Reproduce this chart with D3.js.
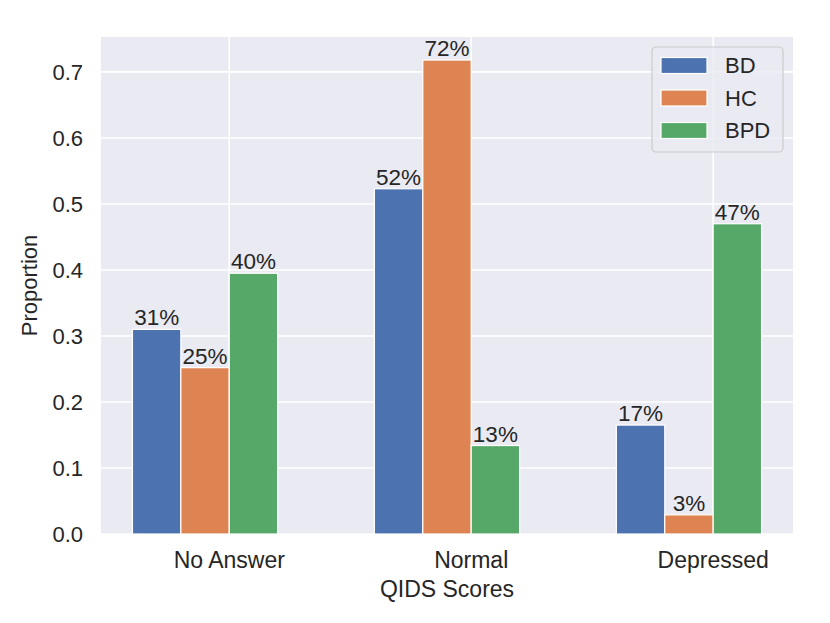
<!DOCTYPE html>
<html>
<head>
<meta charset="utf-8">
<script src="https://cdn.jsdelivr.net/npm/d3@7"></script>
<style>
  body { margin: 0; background: #fff; }
  text { font-family: "Liberation Sans", Arial, sans-serif; fill: #262626; }
</style>
</head>
<body>
<div id="chart"></div>
<script>
const categories = ['No Answer', 'Normal', 'Depressed'];
const groups = ['BD', 'HC', 'BPD'];
const bdValues = [0.310, 0.523, 0.165];
const hcValues = [0.252, 0.718, 0.029];
const bpdValues = [0.395, 0.134, 0.470];
const yTicks = [0.0, 0.1, 0.2, 0.3, 0.4, 0.5, 0.6, 0.7];
const colors = ['#4C72B0', '#DD8452', '#55A868'];

const seriesValues = [bdValues, hcValues, bpdValues];

const width = 830, height = 623;
const margins = { left: 101, right: 37, top: 37, bottom: 89 };
const chartWidth = width - margins.left - margins.right;
const chartHeight = height - margins.top - margins.bottom;

const svg = d3.select('#chart')
    .append('svg')
    .attr('width', width)
    .attr('height', height);

const chart = svg.append('g')
    .attr('transform', `translate(${margins.left}, ${margins.top})`);

// bars of width 0.2 around each tick, like matplotlib with 5% margins
const barW = 0.2;
const xScale = d3.scaleLinear()
    .domain([-0.53, 2.33])
    .range([0, chartWidth]);

const yScale = d3.scaleLinear()
    .domain([0, 0.7529])
    .range([chartHeight, 0]);

chart.append('rect')
    .attr('width', chartWidth)
    .attr('height', chartHeight)
    .attr('fill', '#EAEAF2');

// grid
chart.append('g')
    .selectAll('line')
    .data(yTicks)
    .enter()
    .append('line')
    .attr('x1', 0)
    .attr('x2', chartWidth)
    .attr('y1', d => yScale(d))
    .attr('y2', d => yScale(d))
    .attr('stroke', '#fff')
    .attr('stroke-width', 1.6);

chart.append('g')
    .selectAll('line')
    .data(categories)
    .enter()
    .append('line')
    .attr('x1', (d, i) => xScale(i))
    .attr('x2', (d, i) => xScale(i))
    .attr('y1', 0)
    .attr('y2', chartHeight)
    .attr('stroke', '#fff')
    .attr('stroke-width', 1.6);

// bars
groups.forEach((g, gi) => {
    const offset = (gi - 2) * barW;
    const vals = seriesValues[gi];

    chart.append('g')
        .selectAll('rect')
        .data(vals)
        .enter()
        .append('rect')
        .attr('x', (d, i) => xScale(i + offset))
        .attr('y', d => yScale(d))
        .attr('width', xScale(barW) - xScale(0))
        .attr('height', d => chartHeight - yScale(d))
        .attr('fill', colors[gi])
        .attr('stroke', '#fff')
        .attr('stroke-width', 1.2);

    chart.append('g')
        .selectAll('text')
        .data(vals)
        .enter()
        .append('text')
        .attr('x', (d, i) => xScale(i + offset + barW / 2))
        .attr('y', d => yScale(d) - 4)
        .attr('text-anchor', 'middle')
        .style('font-size', '22.5px')
        .text(d => Math.round(d * 100) + '%');
});

// y axis labels
chart.append('g')
    .selectAll('text')
    .data(yTicks)
    .enter()
    .append('text')
    .attr('x', -18)
    .attr('y', d => yScale(d))
    .attr('dy', '0.35em')
    .attr('text-anchor', 'end')
    .style('font-size', '22px')
    .text(d => d.toFixed(1));

// x axis labels
chart.append('g')
    .selectAll('text')
    .data(categories)
    .enter()
    .append('text')
    .attr('x', (d, i) => xScale(i))
    .attr('y', chartHeight + 34)
    .attr('text-anchor', 'middle')
    .style('font-size', '23px')
    .text(d => d);

svg.append('text')
    .attr('x', margins.left + chartWidth / 2)
    .attr('y', 597)
    .attr('text-anchor', 'middle')
    .style('font-size', '23px')
    .text('QIDS Scores');

svg.append('text')
    .attr('transform', `translate(37, ${margins.top + chartHeight / 2}) rotate(-90)`)
    .attr('text-anchor', 'middle')
    .style('font-size', '22px')
    .text('Proportion');

// legend
const legend = svg.append('g')
    .attr('transform', 'translate(652, 47)');

legend.append('rect')
    .attr('width', 131)
    .attr('height', 105)
    .attr('rx', 4)
    .attr('fill', '#EAEAF2')
    .attr('fill-opacity', 0.8)
    .attr('stroke', '#CCCCCC')
    .attr('stroke-width', 1.2);

groups.forEach((g, gi) => {
    const row = legend.append('g')
        .attr('transform', `translate(9, ${18.5 + gi * 32.5})`);
    row.append('rect')
        .attr('y', -8)
        .attr('width', 46)
        .attr('height', 16)
        .attr('fill', colors[gi])
        .attr('stroke', '#fff')
        .attr('stroke-width', 1.2);
    row.append('text')
        .attr('x', 64)
        .attr('dy', '0.36em')
        .style('font-size', '22px')
        .text(g);
});
</script>
</body>
</html>
